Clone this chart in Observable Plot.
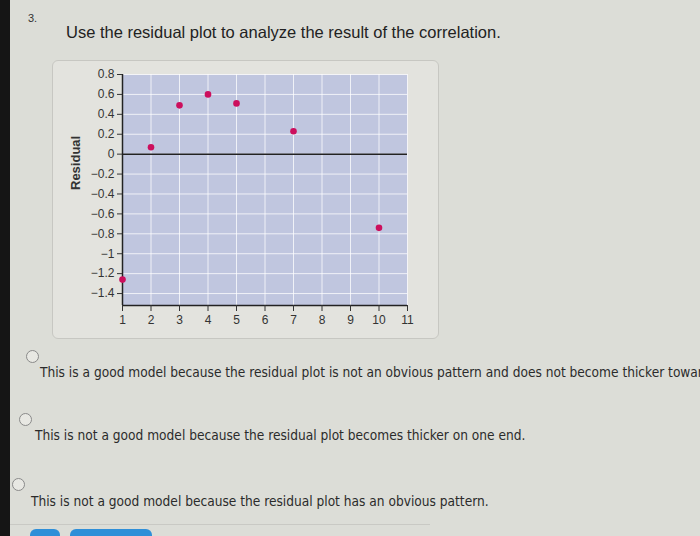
<!DOCTYPE html>
<html>
<head>
<meta charset="utf-8">
<script src="https://cdn.jsdelivr.net/npm/d3@7"></script>
<script src="https://cdn.jsdelivr.net/npm/@observablehq/plot@0.6"></script>
<style>
  html, body { margin: 0; padding: 0; }
  body { width: 700px; height: 536px; position: relative; overflow: hidden; background: #dcddd7; font-family: "Liberation Sans", Arial, sans-serif; }
  .strip { position: absolute; left: 0; top: 0; width: 10px; height: 536px; background: #151515; }
  .num { position: absolute; left: 28px; top: 12px; font-size: 11px; color: #333; }
  .q { position: absolute; left: 66px; top: 23px; font-size: 16.5px; color: #222; white-space: nowrap; }
  .panel { position: absolute; left: 52px; top: 60px; width: 385px; height: 277px; border: 1.5px solid #c7c7c2; border-radius: 6px; background: #e3e3de; }
  #chart { position: absolute; left: 0; top: 60px; }
  .radio { position: absolute; width: 11px; height: 11px; border: 1.3px solid #8a8a8a; border-radius: 50%; background: #e8e8e3; }
  .opt { position: absolute; font-family: "DejaVu Sans Condensed", "DejaVu Sans", sans-serif; font-size: 13.6px; color: #2b2b2b; white-space: nowrap; }
  .sep { position: absolute; left: 10px; top: 524px; width: 420px; height: 1px; background: #c9c9c4; }
  .btn { position: absolute; top: 529px; height: 12px; background: #2f8fd8; border-radius: 6px; }
</style>
</head>
<body>
<div class="strip"></div>
<div class="num">3.</div>
<div class="q">Use the residual plot to analyze the result of the correlation.</div>
<div class="panel"></div>
<div id="chart"></div>
<div class="radio" style="left:26px;top:350px"></div>
<div class="opt" style="left:40px;top:364px">This is a good model because the residual plot is not an obvious pattern and does not become thicker towards one end.</div>
<div class="radio" style="left:19px;top:413px"></div>
<div class="opt" style="left:35px;top:427px">This is not a good model because the residual plot becomes thicker on one end.</div>
<div class="radio" style="left:12px;top:478px"></div>
<div class="opt" style="left:31px;top:493px">This is not a good model because the residual plot has an obvious pattern.</div>
<div class="sep"></div>
<div class="btn" style="left:30px;width:30px"></div>
<div class="btn" style="left:70px;width:82px"></div>
<script>
// Data
const xValues = [1, 2, 3, 4, 5, 7, 10];
const residuals = [-1.26, 0.07, 0.49, 0.6, 0.51, 0.23, -0.74];
const xTicks = [1, 2, 3, 4, 5, 6, 7, 8, 9, 10, 11];
const yTicks = [0.8, 0.6, 0.4, 0.2, 0, -0.2, -0.4, -0.6, -0.8, -1, -1.2, -1.4];
const xDomain = [1, 11];
const yDomain = [-1.52, 0.8];
const yLabel = "Residual";

const points = xValues.map((x, i) => ({x, residual: residuals[i]}));
const fmt = d => String(d).replace("-", "\u2212");

const chart = Plot.plot({
  width: 440,
  height: 280,
  marginLeft: 122,
  marginRight: 33,
  marginTop: 14,
  marginBottom: 35,
  style: {background: "transparent", fontFamily: "'Liberation Sans', Arial, sans-serif", fontSize: "12px", color: "#333"},
  x: {domain: xDomain, ticks: xTicks, label: null},
  y: {domain: yDomain, ticks: yTicks, label: null},
  marks: [
    Plot.frame({fill: "#c0c6df", stroke: null}),
    Plot.gridX(xTicks, {stroke: "#ffffff", strokeOpacity: 0.75, strokeWidth: 1}),
    Plot.gridY(yTicks, {stroke: "#ffffff", strokeOpacity: 0.75, strokeWidth: 1}),
    Plot.ruleY([0], {stroke: "#222", strokeWidth: 1.5}),
    Plot.ruleX([xDomain[0]], {stroke: "#222", strokeWidth: 1.5}),
    Plot.ruleY([yDomain[0]], {stroke: "#222", strokeWidth: 1.5}),
    Plot.axisY(yTicks, {tickSize: 5, tickPadding: 3, tickFormat: fmt, label: null, stroke: "#333", fontSize: 12}),
    Plot.axisX(xTicks, {tickSize: 6, tickPadding: 4, tickFormat: fmt, label: null, stroke: "#333", fontSize: 12}),
    Plot.text([yLabel], {frameAnchor: "left", rotate: -90, dx: -47, fontWeight: "bold", fontSize: 13, fill: "#333"}),
    Plot.dot(points, {x: "x", y: "residual", r: 3.3, fill: "#cc0f5d", stroke: null})
  ]
});
document.getElementById("chart").appendChild(chart);
</script>
</body>
</html>
